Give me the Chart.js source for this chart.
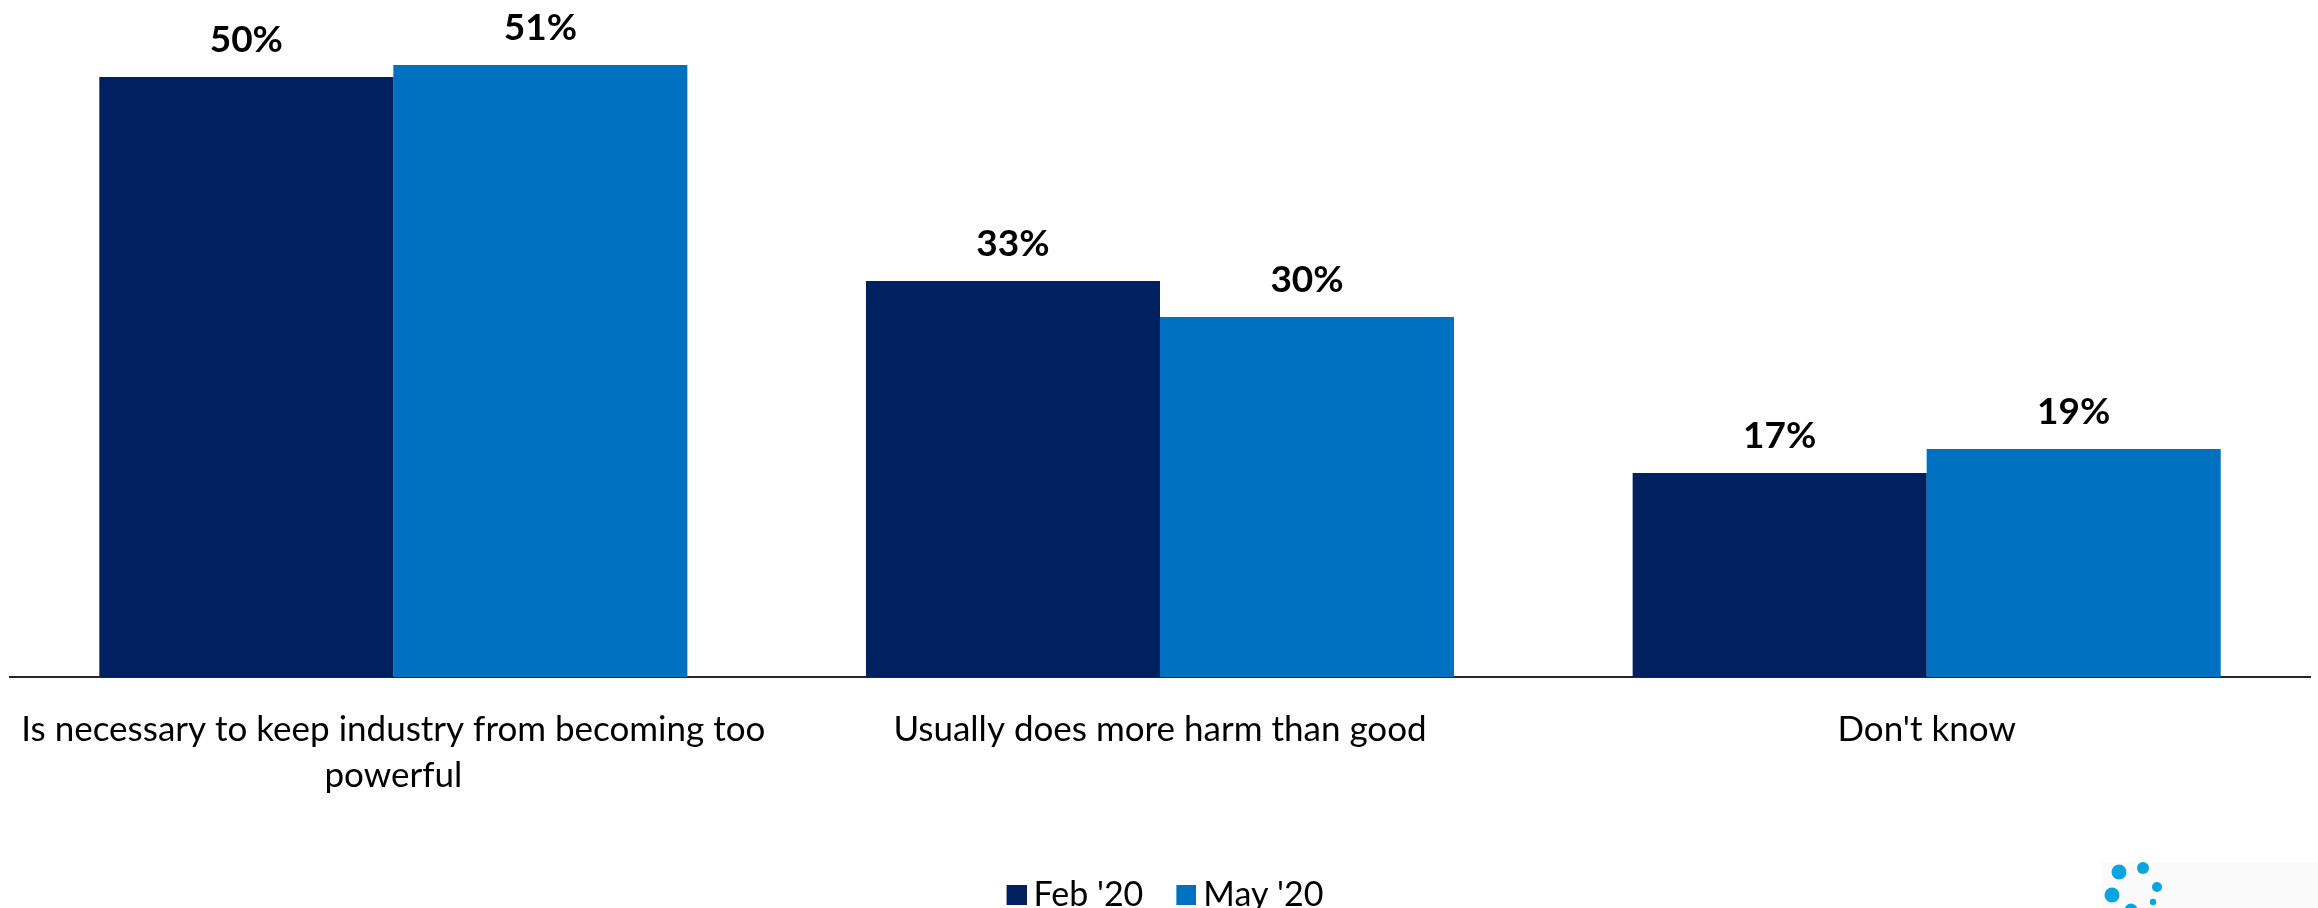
<!DOCTYPE html>
<html>
<head>
<meta charset="utf-8">
<script src="https://cdn.jsdelivr.net/npm/chart.js@4"></script>
<style>
  html, body { margin: 0; padding: 0; background: #ffffff; overflow: hidden; }
  #wrap { position: relative; width: 2318px; height: 922px; }
</style>
</head>
<body>
<div id="wrap"><canvas id="c"></canvas></div>
<script>
const categories = [
  ["Is necessary to keep industry from becoming too", "powerful"],
  "Usually does more harm than good",
  "Don't know"
];
const seriesNames = ["Feb '20", "May '20"];
const feb20 = [50, 33, 17];
const may20 = [51, 30, 19];
const seriesColors = ["#002060", "#0070C0"];

const FONT = 'Lato, "Liberation Sans", Arial, sans-serif';

function legendSwatch(color) {
  const cv = document.createElement('canvas');
  cv.width = 40; cv.height = 20;
  const c = cv.getContext('2d');
  c.fillStyle = color;
  c.fillRect(20, 0, 20, 20);
  return cv;
}

const valueLabels = {
  id: 'valueLabels',
  afterDatasetsDraw(chart) {
    const ctx = chart.ctx;
    ctx.save();
    ctx.font = 'bold 37px ' + FONT;
    ctx.fillStyle = '#000000';
    ctx.textAlign = 'center';
    ctx.textBaseline = 'alphabetic';
    chart.data.datasets.forEach((ds, i) => {
      const meta = chart.getDatasetMeta(i);
      meta.data.forEach((el, j) => {
        ctx.fillText(ds.data[j] + '%', el.x, el.y - 25);
      });
    });
    ctx.restore();
  }
};

const logo = {
  id: 'logo',
  afterDraw(chart) {
    const ctx = chart.ctx;
    ctx.save();
    ctx.fillStyle = '#fafafa';
    ctx.fillRect(2102, 862, 216, 63);
    ctx.fillStyle = '#0AA5E0';
    const dots = [[2119, 872, 7.5], [2143, 868, 6], [2157, 887, 5], [2112, 895, 7.5], [2153, 902, 3.2], [2131, 910, 6.5]];
    dots.forEach(d => { ctx.beginPath(); ctx.arc(d[0], d[1], d[2], 0, Math.PI * 2); ctx.fill(); });
    ctx.restore();
  }
};

new Chart(document.getElementById('c'), {
  type: 'bar',
  data: {
    labels: categories,
    datasets: [
      { label: seriesNames[0], data: feb20, backgroundColor: seriesColors[0], borderWidth: 0, pointStyle: legendSwatch(seriesColors[0]) },
      { label: seriesNames[1], data: may20, backgroundColor: seriesColors[1], borderWidth: 0, pointStyle: legendSwatch(seriesColors[1]) }
    ]
  },
  options: {
    responsive: true,
    maintainAspectRatio: false,
    animation: false,
    layout: { padding: { top: 5, left: 10, right: 8, bottom: 0 } },
    categoryPercentage: 0.767,
    barPercentage: 1.0,
    scales: {
      x: {
        grid: { display: false, drawTicks: false },
        border: { display: true, color: '#262626', width: 2 },
        ticks: { color: '#000000', font: { family: FONT, size: 35, lineHeight: 1.3 }, padding: 30, maxRotation: 0, autoSkip: false },
        afterFit(scale) { scale.height = 178; scale.paddingLeft = 0; scale.paddingRight = 0; }
      },
      y: {
        display: false,
        min: 0,
        max: 56
      }
    },
    plugins: {
      legend: {
        position: 'bottom',
        labels: {
          color: '#000000',
          font: { family: FONT, size: 34 },
          usePointStyle: true,
          pointStyleWidth: 20,
          boxHeight: 20,
          padding: 23
        }
      },
      tooltip: { enabled: false }
    }
  },
  plugins: [valueLabels, logo]
});
</script>
</body>
</html>
